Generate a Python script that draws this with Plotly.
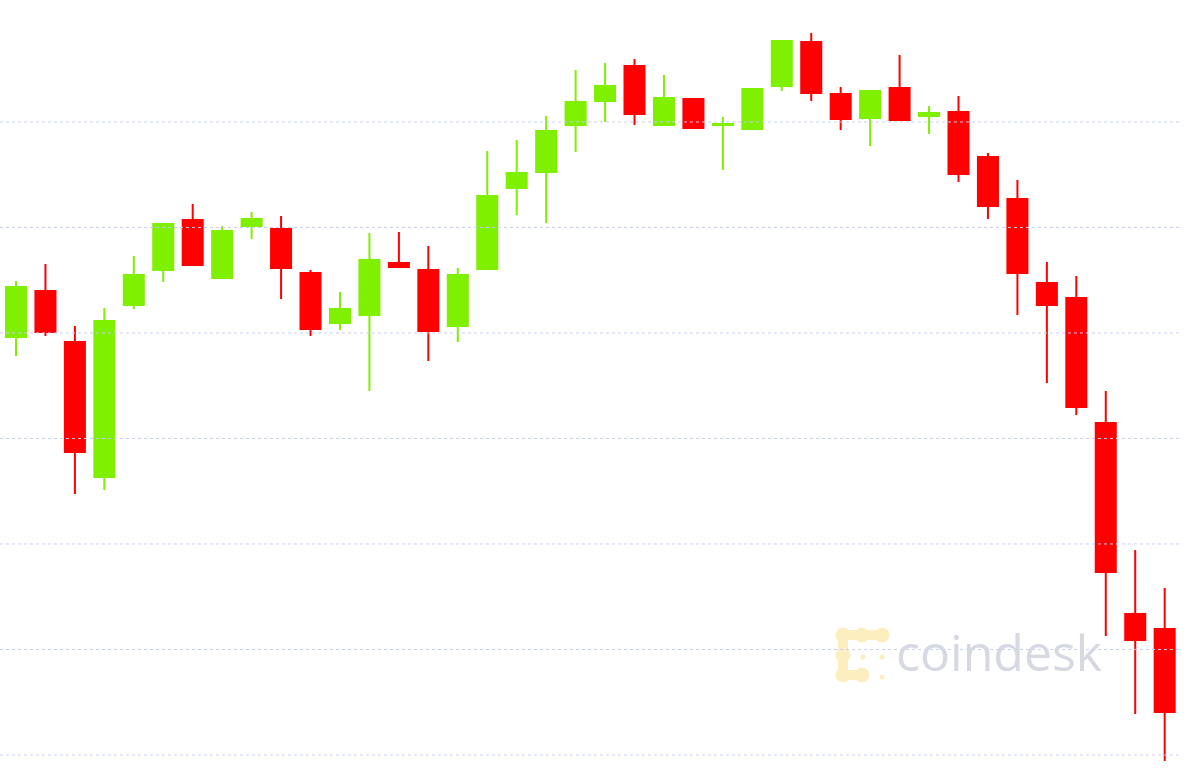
import plotly.graph_objects as go

# ---- data (arbitrary price scale, gridline step 100) ----
idx = list(range(40))
opens = [11596.2, 11639.8, 11591.4, 11463.4, 11626.5, 11659.7, 11707.1, 11652.1, 11701.4, 11698.5,
         11656.8, 11609.4, 11617.0, 11666.3, 11659.7, 11606.6, 11660.6, 11737.4, 11752.6, 11797.1,
         11819.9, 11853.0, 11797.1, 11821.8, 11797.1, 11793.3, 11834.1, 11875.8, 11826.5, 11803.7,
         11832.2, 11805.6, 11809.4, 11766.8, 11727.0, 11647.3, 11633.1, 11514.6, 11333.6, 11319.4]
highs = [11649.2, 11665.4, 11606.6, 11623.6, 11672.9, 11703.3, 11722.2, 11701.4, 11714.6, 11710.9,
         11659.7, 11638.8, 11694.7, 11695.7, 11682.4, 11661.6, 11772.5, 11782.9, 11805.6, 11849.2,
         11855.9, 11859.7, 11844.5, 11822.7, 11804.7, 11831.2, 11876.7, 11884.3, 11833.1, 11830.3,
         11863.5, 11815.1, 11824.6, 11770.6, 11745.0, 11667.3, 11654.0, 11545.0, 11394.3, 11358.2]
lows = [11578.1, 11597.1, 11447.3, 11451.1, 11622.7, 11648.3, 11664.4, 11652.1, 11689.0, 11632.2,
        11597.1, 11602.8, 11545.0, 11661.6, 11573.4, 11591.4, 11660.6, 11711.8, 11704.2, 11771.5,
        11800.0, 11797.1, 11797.1, 11794.3, 11754.5, 11793.3, 11829.3, 11819.9, 11792.4, 11777.2,
        11801.9, 11788.6, 11743.1, 11708.0, 11617.0, 11552.6, 11522.2, 11312.7, 11238.8, 11194.2]
closes = [11643.6, 11600.9, 11487.1, 11611.3, 11654.9, 11703.3, 11664.4, 11696.6, 11708.0, 11661.6,
          11603.7, 11622.7, 11669.1, 11662.5, 11601.8, 11654.9, 11729.8, 11751.6, 11791.4, 11818.9,
          11834.1, 11807.5, 11822.7, 11794.3, 11798.1, 11831.2, 11876.7, 11827.4, 11802.8, 11829.3,
          11801.9, 11808.5, 11750.7, 11720.3, 11656.8, 11626.5, 11529.8, 11373.4, 11308.9, 11240.7]
grid_values = [11800, 11700, 11600, 11500, 11400, 11300, 11200]
watermark = "coindesk"

GREEN = "#7ff000"
RED = "#ff0000"

fig = go.Figure()
fig.add_trace(go.Candlestick(
    x=idx, open=opens, high=highs, low=lows, close=closes,
    increasing=dict(line=dict(color=GREEN, width=2), fillcolor=GREEN),
    decreasing=dict(line=dict(color=RED, width=2), fillcolor=RED),
    whiskerwidth=0, showlegend=False, hoverinfo="x+y",
))

W, H = 1200, 773
PW = 1180  # plot width in px (right margin 20)

def px(x):
    return x / PW

def py(y):
    return 1 - y / H

shapes = []
# dotted gridlines drawn above the candles
for v in grid_values:
    shapes.append(dict(type="line", xref="paper", yref="y", x0=0, x1=1, y0=v, y1=v,
                       line=dict(color="rgba(196,204,240,0.95)", width=1, dash="dot"),
                       layer="above"))

# pale yellow logo mark (decorative)
LOGO = "rgb(253,238,192)"
r = 7.5
for cx, cy in [(843, 635), (862, 635), (882, 635), (843, 655), (843, 675), (862, 675)]:
    shapes.append(dict(type="circle", xref="paper", yref="paper",
                       x0=px(cx - r), x1=px(cx + r), y0=py(cy + r), y1=py(cy - r),
                       fillcolor=LOGO, line=dict(width=0), layer="below"))
hw = 5
for x0, y0, x1, y1 in [(843, 635 - hw, 882, 635 + hw), (843 - hw, 635, 843 + hw, 675),
                       (843, 675 - hw, 862, 675 + hw)]:
    shapes.append(dict(type="rect", xref="paper", yref="paper",
                       x0=px(x0), x1=px(x1), y0=py(y1), y1=py(y0),
                       fillcolor=LOGO, line=dict(width=0), layer="below"))
for cx, cy, rr in [(863, 657, 2.6), (882, 657, 2.6), (882, 677, 2.6)]:
    shapes.append(dict(type="circle", xref="paper", yref="paper",
                       x0=px(cx - rr), x1=px(cx + rr), y0=py(cy + rr), y1=py(cy - rr),
                       fillcolor=LOGO, line=dict(width=0), layer="below"))

fig.update_layout(
    width=W, height=H,
    margin=dict(l=0, r=20, t=0, b=0),
    paper_bgcolor="white", plot_bgcolor="white",
    boxgap=0.32, boxgroupgap=0,
    shapes=shapes,
    xaxis=dict(range=[-0.543, 39.52], visible=False, rangeslider=dict(visible=False), fixedrange=True),
    yaxis=dict(range=[11182.9, 11915.6], visible=False, showgrid=False, zeroline=False),
    annotations=[dict(text=watermark, xref="paper", yref="paper",
                      x=px(999), y=py(652), xanchor="center", yanchor="middle",
                      showarrow=False,
                      font=dict(family="Open Sans", size=50, color="rgb(214,217,226)"))],
)

fig.write_html("out.html", config={"displayModeBar": False},
               post_script="document.body.style.margin='0';")
